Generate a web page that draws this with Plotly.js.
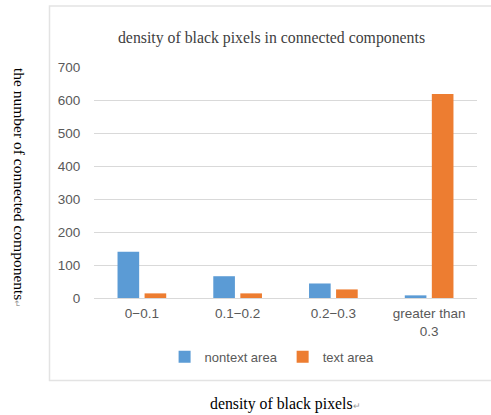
<!DOCTYPE html>
<html>
<head>
<meta charset="utf-8">
<script src="https://cdn.plot.ly/plotly-3.0.1.min.js"></script>
<style>html,body{margin:0;padding:0;background:#fff;}#chart{width:491px;height:415px;}</style>
</head>
<body>
<div id="chart"></div>
<script>
var categories = ["0\u22120.1", "0.1\u22120.2", "0.2\u22120.3", "greater than<br>0.3"];
var nontextArea = [140, 66, 44, 8];
var textArea = [14, 14, 26, 618];
var seriesNames = ["nontext area", "text area"];
var yTicks = [0, 100, 200, 300, 400, 500, 600, 700];

var tickFont = {family: "Liberation Sans, Arial, sans-serif", size: 13.5, color: "#595959"};
var serif = "Liberation Serif, Times New Roman, serif";

var traces = [
  {type: "bar", name: seriesNames[0], x: categories, y: nontextArea, marker: {color: "#5b9bd5"}},
  {type: "bar", name: seriesNames[1], x: categories, y: textArea, marker: {color: "#ed7d31"}}
];

var layout = {
  width: 491, height: 415,
  margin: {l: 94, r: 14, t: 67, b: 117},
  paper_bgcolor: "#fff", plot_bgcolor: "#fff",
  barmode: "group", bargap: 0.435, bargroupgap: 0.2,
  showlegend: true,
  title: {text: "density of black pixels in connected components", font: {family: serif, size: 15.8, color: "#404040"},
          x: 0.553, xref: "container", xanchor: "center", y: 0.91, yref: "container", yanchor: "middle"},
  xaxis: {type: "category", tickfont: tickFont, showgrid: false, showline: true, linecolor: "#d9d9d9", linewidth: 1,
          ticks: "outside", ticklen: 3, tickcolor: "rgba(0,0,0,0)", fixedrange: true},
  yaxis: {range: [0, 700], tickvals: yTicks, tickfont: tickFont, showgrid: true, gridcolor: "#d9d9d9", gridwidth: 1,
          zeroline: false, showline: false, ticks: "outside", ticklen: 10, tickcolor: "rgba(0,0,0,0)", fixedrange: true},
  legend: {orientation: "h", x: 0.465, xanchor: "center", y: -0.255, yanchor: "middle",
           font: {family: "Liberation Sans, Arial, sans-serif", size: 13, color: "#595959"}, itemwidth: 30, traceorder: "normal"},
  shapes: [
    {type: "rect", xref: "paper", yref: "paper", x0: -0.1162, x1: 1.05, y0: -0.357, y1: 1.264,
     line: {color: "#e3e3e3", width: 1.5}, fillcolor: "rgba(0,0,0,0)", layer: "below"}
  ],
  annotations: [
    {text: "the number of connected components<span style='font-size:9px;color:#999'>\u21b5</span>", textangle: 90,
     xref: "paper", yref: "paper", x: -0.193, y: 0.476, xanchor: "center", yanchor: "middle", showarrow: false,
     font: {family: serif, size: 15.5, color: "#000"}},
    {text: "density of black pixels<span style='font-size:9px;color:#999'>\u21b5</span>",
     xref: "paper", yref: "paper", x: 0.5, y: -0.459, xanchor: "center", yanchor: "middle", showarrow: false,
     font: {family: serif, size: 15.8, color: "#000"}}
  ]
};

Plotly.newPlot("chart", traces, layout, {displayModeBar: false, staticPlot: true});
</script>
</body>
</html>
